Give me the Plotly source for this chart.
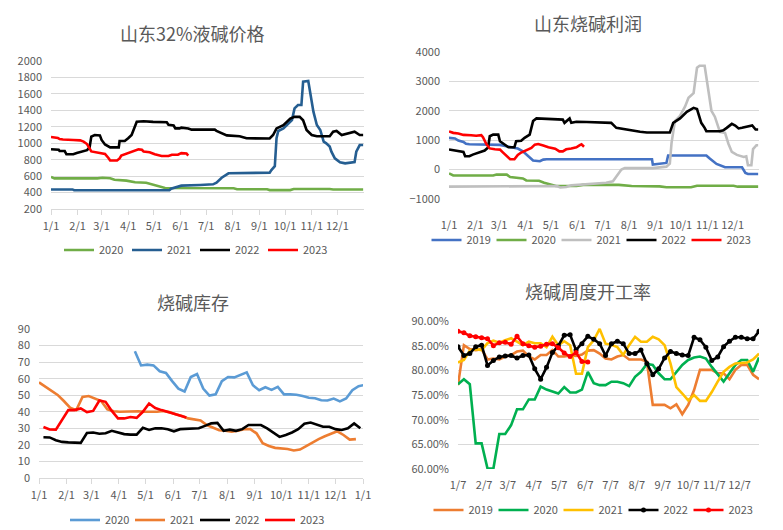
import plotly.graph_objects as go

# ---------------- data ----------------
# Panel 1: 山东32%液碱价格 (x = day of year)
price_2020_day = [0,4,54,60,69,74,88,98,111,117,127,133,213,217,252,255,279,283,325,329,364]
price_2020 = [590,573,573,580,575,556,545,525,520,500,470,455,452,440,440,430,430,443,443,437,437]
price_2021_day = [0,25,27,138,140,152,174,189,193,197,199,207,255,257,261,263,265,271,277,281,284,288,292,294,300,302,306,310,314,318,321,325,327,331,337,343,354,356,360,364]
price_2021 = [438,438,428,428,447,484,492,500,520,553,580,634,642,674,720,1060,1149,1181,1242,1282,1424,1465,1465,1749,1757,1627,1384,1222,1161,1019,999,960,897,816,768,755,770,897,978,978]
price_2022_day = [0,9,10,16,18,26,30,38,42,45,47,51,57,59,63,69,79,80,86,90,94,100,108,119,135,137,143,145,150,152,160,164,191,193,199,205,220,228,255,259,263,271,279,284,290,294,298,304,310,325,329,333,339,345,354,360,364]
price_2022 = [926,920,905,905,865,865,880,900,915,950,1080,1100,1095,1040,985,950,950,1027,1027,1060,1100,1262,1268,1260,1255,1225,1215,1180,1180,1190,1180,1165,1165,1150,1120,1095,1085,1060,1058,1100,1180,1220,1300,1320,1320,1280,1161,1100,1085,1085,1140,1150,1100,1115,1140,1100,1100]
price_2023_day = [0,8,10,14,26,34,38,42,47,57,63,67,69,77,80,82,88,94,98,102,106,108,115,121,129,137,141,148,152,158,160]
price_2023 = [1075,1065,1050,1045,1040,1035,1020,990,900,885,870,820,790,790,815,850,870,895,910,925,920,900,890,865,845,845,860,860,880,875,850]

# Panel 2: 山东烧碱利润
profit_2019_day = [0,7,11,17,20,24,60,68,75,81,87,93,99,107,111,115,239,240,248,256,258,303,307,315,325,345,349,352,364]
profit_2019 = [1080,1060,990,943,875,860,840,800,760,715,625,455,307,284,340,352,352,170,190,227,480,480,375,193,80,80,-114,-150,-150]
profit_2020_day = [0,5,52,56,68,72,87,91,106,112,126,150,158,200,215,248,256,285,292,335,340,364]
profit_2020 = [-130,-200,-200,-170,-170,-250,-300,-370,-380,-450,-560,-560,-520,-520,-560,-570,-600,-600,-550,-550,-580,-580]
profit_2021_day = [0,83,85,127,131,138,144,185,193,197,203,207,240,256,260,262,266,272,278,282,288,292,295,301,305,309,313,319,325,329,333,339,347,350,352,356,358,362,364]
profit_2021 = [-580,-580,-560,-560,-610,-590,-535,-450,-400,-225,0,50,50,100,200,900,1650,1830,2150,2440,2600,3465,3530,3530,2800,2000,1800,1280,1250,880,600,500,430,450,150,150,700,830,830]
profit_2022_day = [0,7,11,17,19,24,28,34,38,42,46,48,52,58,60,66,70,77,79,85,89,95,99,103,115,134,136,142,144,150,162,185,191,197,207,217,225,233,260,264,272,280,288,292,297,301,303,319,323,327,333,337,341,345,353,357,361,364]
profit_2022 = [682,650,625,600,455,455,510,568,625,650,750,1136,1190,1190,965,852,760,760,965,980,1080,1190,1650,1740,1730,1700,1590,1740,1590,1625,1620,1590,1590,1420,1365,1330,1290,1260,1260,1590,1740,1965,2100,2060,1590,1420,1306,1306,1340,1420,1555,1500,1400,1420,1477,1500,1364,1364]
profit_2023_day = [0,5,11,17,26,32,38,40,44,48,54,60,64,68,72,77,79,81,85,91,97,101,105,111,117,125,130,134,138,144,150,154,156,159]
profit_2023 = [1300,1250,1230,1180,1170,1150,1170,1100,870,720,690,680,570,450,350,350,420,500,580,650,740,850,870,820,760,710,620,620,690,720,760,830,860,780]

# Panel 3: 烧碱库存 (weekly, first day of year of each series)
inv_2020_start = 108
inv_2020 = [76.5,68.0,68.5,68.0,64.5,63.5,58.5,54.0,52.3,61.0,62.8,54.0,49.8,50.5,58.5,61.0,60.8,62.5,63.8,56.0,53.0,54.8,53.2,55.0,50.5,50.5,50.3,49.5,48.5,48.2,47.0,46.8,48.0,46.3,48.0,53.0,55.5,56.2]
inv_2021_start = 0
inv_2021 = [57.8,55.4,53.0,50.2,46.5,42.5,41.0,49.0,49.5,48.0,46.5,41.5,40.3,40.0,40.2,40.3,40.3,40.0,40.0,40.0,40.5,39.8,38.5,37.5,36.0,35.5,34.8,32.0,30.2,28.8,28.5,28.0,28.5,29.5,29.5,27.0,21.0,19.3,18.2,18.0,17.5,16.6,17.2,19.3,21.5,23.5,25.2,26.8,28.2,26.0,23.2,23.5]
inv_2022_start = 5
inv_2022 = [24.6,24.5,22.8,21.8,21.5,21.2,21.2,27.2,27.5,26.7,27.0,28.5,27.3,26.5,26.2,26.2,30.3,29.0,30.0,30.0,29.5,28.2,29.5,29.7,29.8,30.0,31.5,33.0,33.3,28.5,29.2,28.5,29.5,32.0,32.0,32.0,30.0,27.5,24.8,26.0,27.5,29.5,32.8,33.5,32.3,31.0,31.0,29.5,29.0,30.0,33.0,30.0]
inv_2023_start = 5
inv_2023 = [30.8,29.3,29.2,35.3,41.0,41.0,42.0,39.8,40.5,46.8,46.0,40.5,36.0,36.0,36.8,36.3,40.0,45.0,42.3,41.0,40.0,39.0,38.0,36.6]

# Panel 4: 烧碱周度开工率 (%; weekly from 1/7)
rate_start = 6
rate_2019 = [77.0,85.1,84.3,84.1,84.3,82.2,82.4,82.2,82.8,83.1,83.8,84.0,82.8,82.2,83.1,83.1,84.1,82.8,82.8,83.0,82.9,83.2,84.0,84.1,83.4,82.4,82.2,82.8,83.1,82.2,82.2,82.2,81.8,73.0,73.0,73.0,72.3,73.1,71.1,73.0,76.0,80.1,80.1,80.1,79.4,79.4,78.2,80.1,81.1,81.1,79.1,78.2]
rate_2020 = [77.2,78.2,77.2,65.2,65.2,60.1,60.1,67.1,67.1,68.9,72.1,72.1,74.1,74.1,76.7,76.1,75.7,75.3,76.6,75.5,75.5,76.1,79.7,77.4,77.0,77.0,77.7,77.7,77.4,76.8,78.7,79.7,81.3,81.1,79.4,78.2,78.2,79.7,81.1,82.1,82.6,82.8,82.4,80.7,79.1,77.7,79.4,81.1,82.1,82.1,79.7,82.6]
rate_2021 = [81.6,82.1,84.0,84.3,84.1,85.5,86.0,85.6,86.1,86.5,85.8,85.1,85.8,85.5,85.5,84.7,86.8,85.1,85.9,85.1,79.3,79.3,84.7,86.1,88.4,85.4,85.2,84.7,83.1,85.1,86.8,85.8,85.8,86.8,86.3,85.1,81.4,76.6,75.3,73.9,75.0,73.8,73.8,75.6,77.7,79.7,80.7,81.4,81.5,81.6,82.2,83.4]
rate_2022 = [84.8,83.0,83.4,84.8,85.1,81.0,82.0,82.7,82.9,83.0,82.5,83.0,83.1,80.3,78.2,80.6,83.6,85.0,87.1,87.2,84.1,85.4,86.9,86.3,85.4,83.0,85.4,85.9,85.4,83.4,83.4,84.1,81.4,79.1,80.3,82.5,83.8,83.4,83.1,83.0,86.7,86.2,84.7,82.0,82.7,84.8,85.9,86.7,86.7,86.4,86.4,87.9]
rate_2023 = [87.9,87.6,87.0,86.8,86.6,86.4,85.0,85.6,85.7,85.3,86.9,85.4,85.0,84.7,84.9,85.3,85.4,84.6,83.5,82.8,83.6,81.8,81.7]

# axis ticks
month_start_day = [0,31,59,90,120,151,181,212,243,273,304,334]
labels_m1 = ["1/1","2/1","3/1","4/1","5/1","6/1","7/1","8/1","9/1","10/1","11/1","12/1"]
labels_m7 = ["1/7","2/7","3/7","4/7","5/7","6/7","7/7","8/7","9/7","10/7","11/7","12/7"]

# ---------------- figure ----------------
W, H = 783, 530
FONT = "Noto Sans CJK SC"
TXT = "#595959"
GRID = "#D9D9D9"

def px(v):
    return v / W

def py(v):
    return 1 - v / H

def weekly(start, n):
    return [start + 7 * i for i in range(n)]

fig = go.Figure()

def add(xs, ys, name, color, ax, lg, markers=False):
    fig.add_trace(go.Scatter(
        x=xs, y=ys, name=name,
        mode="lines+markers" if markers else "lines",
        line=dict(color=color, width=2.6),
        marker=dict(size=5, color=color),
        xaxis="x" + ax, yaxis="y" + ax, legend=lg, hoverinfo="skip"))

# panel 1
add(price_2020_day, price_2020, "2020", "#70AD47", "", "legend")
add(price_2021_day, price_2021, "2021", "#255E91", "", "legend")
add(price_2022_day, price_2022, "2022", "#000000", "", "legend")
add(price_2023_day, price_2023, "2023", "#FF0000", "", "legend")
# panel 2
add(profit_2019_day, profit_2019, "2019", "#4472C4", "2", "legend2")
add(profit_2020_day, profit_2020, "2020", "#70AD47", "2", "legend2")
add(profit_2021_day, profit_2021, "2021", "#BFBFBF", "2", "legend2")
add(profit_2022_day, profit_2022, "2022", "#000000", "2", "legend2")
add(profit_2023_day, profit_2023, "2023", "#FF0000", "2", "legend2")
# panel 3
add(weekly(inv_2020_start, len(inv_2020)), inv_2020, "2020", "#5B9BD5", "3", "legend3")
add(weekly(inv_2021_start, len(inv_2021)), inv_2021, "2021", "#ED7D31", "3", "legend3")
add(weekly(inv_2022_start, len(inv_2022)), inv_2022, "2022", "#000000", "3", "legend3")
add(weekly(inv_2023_start, len(inv_2023)), inv_2023, "2023", "#FF0000", "3", "legend3")
# panel 4
add(weekly(rate_start, len(rate_2019)), rate_2019, "2019", "#ED7D31", "4", "legend4")
add(weekly(rate_start, len(rate_2020)), rate_2020, "2020", "#00B050", "4", "legend4")
add(weekly(rate_start, len(rate_2021)), rate_2021, "2021", "#FFC000", "4", "legend4")
add(weekly(rate_start, len(rate_2022)), rate_2022, "2022", "#000000", "4", "legend4", markers=True)
add(weekly(rate_start, len(rate_2023)), rate_2023, "2023", "#FF0000", "4", "legend4", markers=True)

tickfont = dict(family=FONT, size=11, color=TXT)

def xax(x0, x1, rng, tv, tt, anchor, line=True, standoff=2):
    return dict(domain=[px(x0), px(x1)], range=rng, tickvals=tv, ticktext=tt, anchor=anchor,
                showgrid=False, zeroline=False, showline=line, linecolor=GRID, linewidth=1,
                ticks="outside" if line else "", ticklen=5, tickcolor=GRID,
                tickfont=tickfont, ticklabelstandoff=standoff, automargin=False, fixedrange=True)

def yax(ytop, ybot, rng, dtick, anchor, fmt=None, suffix=None, standoff=8):
    d = dict(domain=[py(ybot), py(ytop)], range=rng, dtick=dtick, tick0=rng[0], anchor=anchor,
             showgrid=True, gridcolor=GRID, gridwidth=1, zeroline=False, showline=False,
             ticks="", tickfont=tickfont, ticklabelstandoff=standoff, automargin=False,
             fixedrange=True)
    if fmt:
        d["tickformat"] = fmt
    if suffix:
        d["ticksuffix"] = suffix
    return d

rate_ticks = [d + 6 for d in month_start_day]

fig.update_layout(
    template="none",
    width=W, height=H, margin=dict(l=0, r=0, t=0, b=0, autoexpand=False),
    paper_bgcolor="white", plot_bgcolor="white",
    font=dict(family=FONT, color=TXT, size=11),
    xaxis=xax(51, 364, [0, 365], month_start_day, labels_m1, "y"),
    yaxis=yax(61, 209, [200, 2000], 200, "x"),
    xaxis2=xax(449, 759, [0, 365], month_start_day, labels_m1, "y2", line=False, standoff=18),
    yaxis2=yax(52, 199, [-1000, 4000], 1000, "x2"),
    xaxis3=xax(39, 363, [0, 365], month_start_day + [365], labels_m1 + ["1/1"], "y3"),
    yaxis3=yax(329, 478, [0, 90], 10, "x3"),
    xaxis4=xax(458, 759, [6, 363], rate_ticks, labels_m7, "y4", line=False, standoff=8),
    yaxis4=yax(321, 469, [60, 90], 5, "x4", fmt=".2f", suffix="%"),
)

# category axis of panel 2 crossing at zero
zero_pos = py(199) + (py(52) - py(199)) * (0 - (-1000)) / 5000
fig.update_layout(xaxis5=dict(overlaying="x2", anchor="free", position=zero_pos,
                              range=[0, 365], tickvals=month_start_day, showticklabels=False,
                              showgrid=False, zeroline=False, showline=True, linecolor=GRID,
                              ticks="outside", ticklen=4, tickcolor=GRID, automargin=False,
                              fixedrange=True))

def legend(cx, cy, ew):
    return dict(orientation="h", x=px(cx), y=py(cy), xanchor="center", yanchor="middle",
                font=dict(family=FONT, size=11, color=TXT), bgcolor="rgba(0,0,0,0)",
                borderwidth=0, entrywidth=ew, entrywidthmode="pixels",
                traceorder="normal", itemclick=False, itemdoubleclick=False)

fig.update_layout(legend=legend(195, 250, 23), legend2=legend(589, 240, 20),
                  legend3=legend(195, 520, 20), legend4=legend(591, 510, 20), showlegend=True)

titles = [("山东32%液碱价格", 192, 33), ("山东烧碱利润", 588, 23),
          ("烧碱库存", 193, 302), ("烧碱周度开工率", 588, 291)]
for t, cx, cy in titles:
    fig.add_annotation(text=t, x=px(cx), y=py(cy), xref="paper", yref="paper",
                       xanchor="center", yanchor="middle", showarrow=False,
                       font=dict(family=FONT, size=18, color=TXT))

fig.write_html("out.html", config={"displayModeBar": False},
               post_script="document.body.style.margin='0';document.body.style.overflow='hidden';")
